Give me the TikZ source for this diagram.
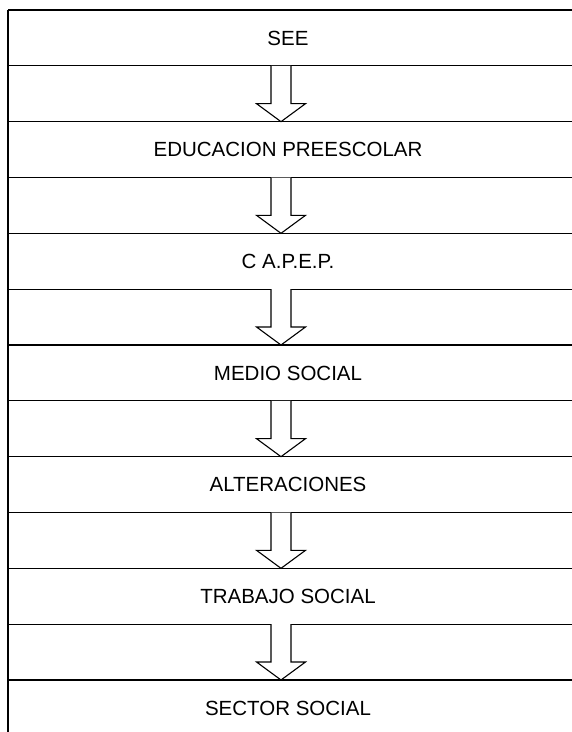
\documentclass[tikz,border=0pt]{standalone}
\usepackage{fontspec}
\setmainfont{Liberation Sans}
\begin{document}
\begin{tikzpicture}[x=1pt,y=-1pt,
  rule/.style={line width=1.1pt,black},
  label/.style={font=\fontsize{20.5}{24}\selectfont,inner sep=0pt,anchor=center},
  blockarrow/.style={line width=1.1pt,black,fill=white,line join=miter}]
\useasboundingbox (0,0) rectangle (572,732);
\fill[white] (0,0) rectangle (572,732);
% left border
\coordinate (lt) at (8,10);
\coordinate (lb) at (8,732);
\draw[rule] (lt) -- (lb);
% horizontal rules
\foreach \i in {0,...,12}{
  \coordinate (hl\i) at (8,{10+55.833*\i});
  \coordinate (hr\i) at (572,{10+55.833*\i});
  \draw[rule] (hl\i) -- (hr\i);
}
% labels
\node[label] (n0) at (288,{10+55.833*0+28}) {SEE};
\node[label] (n1) at (288,{10+55.833*2+28}) {EDUCACION PREESCOLAR};
\node[label] (n2) at (288,{10+55.833*4+28}) {C A.P.E.P.};
\node[label] (n3) at (288,{10+55.833*6+28}) {MEDIO SOCIAL};
\node[label] (n4) at (288,{10+55.833*8+28}) {ALTERACIONES};
\node[label] (n5) at (288,{10+55.833*10+28}) {TRABAJO SOCIAL};
\node[label] (n6) at (288,{10+55.833*12+28}) {SECTOR SOCIAL};
% arrows
\foreach \k in {0,...,5}{
  \pgfmathsetmacro{\T}{10+55.833*(2*\k+1)}
  \pgfmathsetmacro{\B}{\T+55.833}
  \coordinate (at\k) at (281,\T);
  \coordinate (ab\k) at (281,\B);
  \draw[blockarrow] (at\k) ++(-10,0) -- ++(0,37.8) -- ++(-14.5,0) -- (ab\k)
    -- ++(24.5,-18) -- ++(-14.5,0) -- ++(0,-37.8);
}
\end{tikzpicture}
\end{document}
